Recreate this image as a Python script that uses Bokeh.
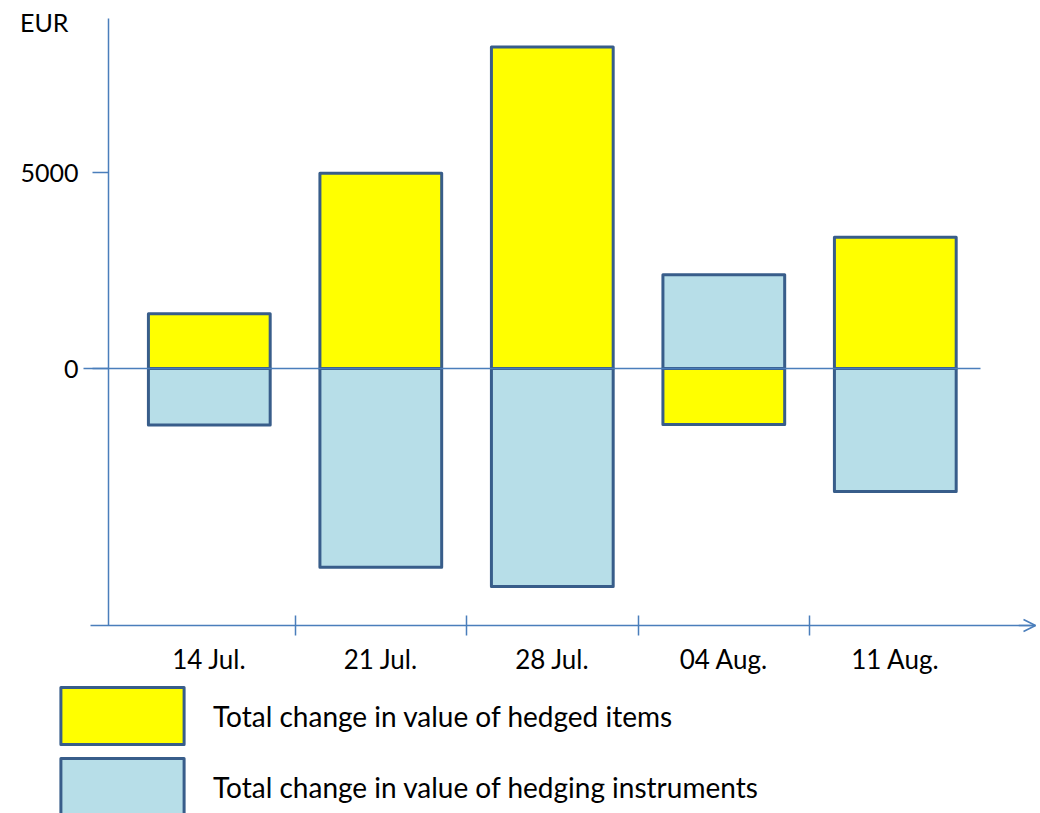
from bokeh.plotting import figure
from bokeh.models import (Range1d, LinearAxis, FixedTicker, Legend, LegendItem,
                          Arrow, OpenHead, Label)
from bokeh.embed import file_html
from bokeh.resources import INLINE

# ---------------- data ----------------
categories = ["14 Jul.", "21 Jul.", "28 Jul.", "04 Aug.", "11 Aug."]
hedged_items = [1400, 4980, 8200, -1430, 3350]
hedging_instruments = [-1440, -5070, -5560, 2390, -3140]
y_ticks = [0, 5000]
unit_label = "EUR"
series_names = ["Total change in value of hedged items",
                "Total change in value of hedging instruments"]

# ---------------- style ----------------
YELLOW = "#FFFF00"
AQUA = "#B7DEE8"
OUTLINE = "#385D8A"
AXIS = "#4A7EBB"
FONT = "Lato"

W, H = 1040, 813
X_START, X_END = -1.2175, 4.8466
Y_START, Y_END = -11352, 9388
X_AXIS_Y = -6556          # where the category axis sits
Y_AXIS_X = -0.5878        # where the value axis sits
Y_AXIS_TOP = 8929
BAR_W = 0.71

x = list(range(len(categories)))

p = figure(width=W, height=H,
           x_range=Range1d(X_START, X_END), y_range=Range1d(Y_START, Y_END),
           x_axis_type=None, y_axis_type=None,
           toolbar_location=None, output_backend="svg",
           min_border=0, outline_line_color=None)

r_inst = p.vbar(x=x, top=hedging_instruments, bottom=0, width=BAR_W,
                fill_color=AQUA, line_color=OUTLINE, line_width=3,
                line_join="round")
r_item = p.vbar(x=x, top=hedged_items, bottom=0, width=BAR_W,
                fill_color=YELLOW, line_color=OUTLINE, line_width=3,
                line_join="round")

# value axis
yaxis = LinearAxis(fixed_location=Y_AXIS_X, bounds=(X_AXIS_Y, Y_AXIS_TOP),
                   ticker=FixedTicker(ticks=y_ticks, minor_ticks=[]),
                   axis_line_color=AXIS, axis_line_width=1.5,
                   major_tick_line_color=AXIS, major_tick_line_width=1.5,
                   major_tick_out=16, major_tick_in=0,
                   minor_tick_line_color=None,
                   major_label_text_font=FONT, major_label_text_font_size="25px",
                   major_label_text_color="black", major_label_standoff=14)
p.add_layout(yaxis, "left")

# zero line
zaxis = LinearAxis(fixed_location=0, bounds=(-0.7335, 4.4968),
                   ticker=FixedTicker(ticks=[], minor_ticks=[]),
                   axis_line_color=AXIS, axis_line_width=1.5,
                   major_tick_line_color=None, minor_tick_line_color=None,
                   major_label_text_alpha=0)
p.add_layout(zaxis, "below")

# category axis
xaxis = LinearAxis(fixed_location=X_AXIS_Y, bounds=(-0.6927, 4.8175),
                   ticker=FixedTicker(ticks=x, minor_ticks=[i + 0.5 for i in x[:-1]]),
                   major_label_overrides={i: c for i, c in enumerate(categories)},
                   axis_line_color=AXIS, axis_line_width=1.5,
                   major_tick_line_color=None, major_tick_out=0, major_tick_in=0,
                   minor_tick_line_color=AXIS, minor_tick_line_width=1.5,
                   minor_tick_in=10, minor_tick_out=10,
                   major_label_text_font=FONT, major_label_text_font_size="26px",
                   major_label_text_color="black", major_label_standoff=8)
p.add_layout(xaxis, "below")

p.add_layout(Arrow(end=OpenHead(size=12, line_color=AXIS, line_width=1.5),
                   x_start=4.72, y_start=X_AXIS_Y, x_end=4.8175, y_end=X_AXIS_Y,
                   line_color=AXIS, line_width=1.5))

p.add_layout(Label(x=Y_AXIS_X, y=Y_AXIS_TOP, x_offset=-40, y_offset=-4,
                   text=unit_label, text_align="right", text_baseline="middle",
                   text_font=FONT, text_font_size="25px", text_color="black"))

legend = Legend(items=[LegendItem(label=series_names[0], renderers=[r_item]),
                       LegendItem(label=series_names[1], renderers=[r_inst])],
                location=(45, -9), orientation="vertical",
                glyph_width=154, glyph_height=71, spacing=-4,
                label_standoff=14, padding=0, margin=0,
                border_line_color=None, background_fill_alpha=0,
                label_text_font=FONT, label_text_font_size="28px",
                label_text_color="black")
p.add_layout(legend)

open("out.html", "w").write(file_html(p, INLINE))
